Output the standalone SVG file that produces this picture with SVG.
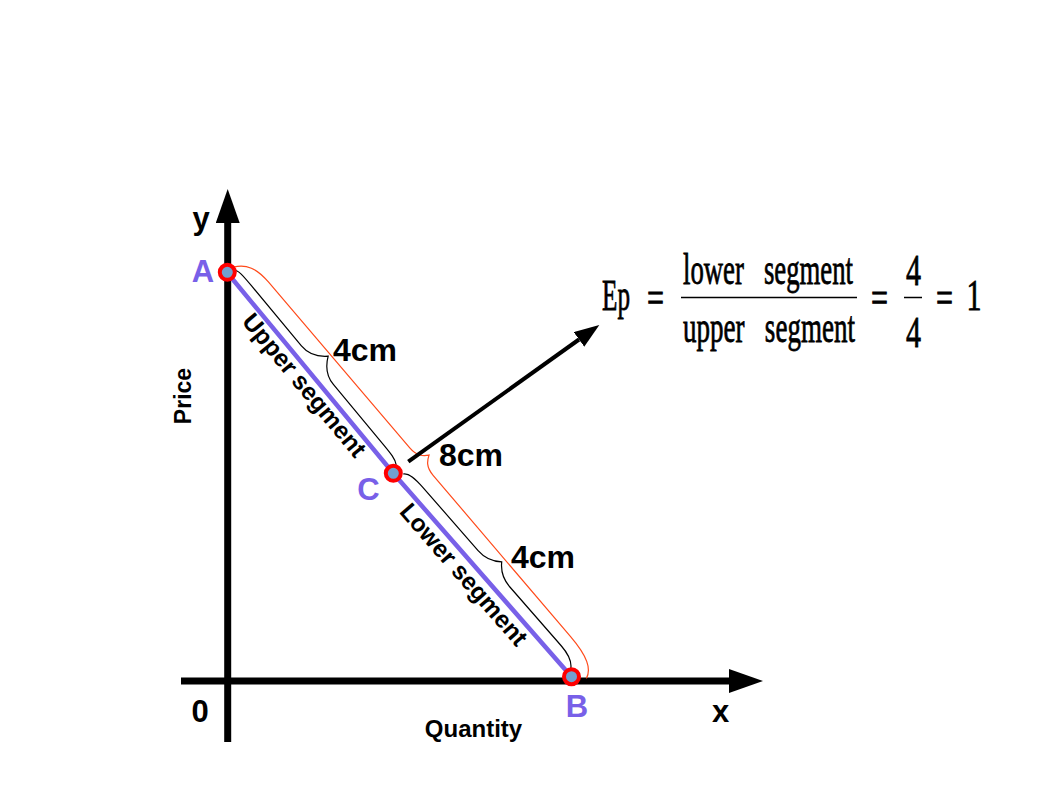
<svg xmlns="http://www.w3.org/2000/svg" width="1058" height="794" viewBox="0 0 1058 794">
<style>
.lbl{font-family:"Liberation Sans",Arial,sans-serif;font-weight:bold;fill:#000}
.pt{font-family:"Liberation Sans",Arial,sans-serif;font-weight:bold;font-size:31px;fill:#7860e8;text-anchor:middle}
.cm{font-family:"Liberation Sans",Arial,sans-serif;font-weight:bold;font-size:32px;fill:#000}
.seg{font-family:"Liberation Sans",Arial,sans-serif;font-weight:bold;font-size:24.5px;fill:#000;text-anchor:middle}
.f{font-family:"Liberation Serif","Times New Roman",serif;font-size:44px;fill:#000;stroke:#000;stroke-width:0.8}
.axis{stroke:#000;stroke-width:7;fill:none}
.brace{fill:none;stroke:#000;stroke-width:1.2}
.brace.red{stroke:#ff4a1a}
.dot{fill:#729fcf;stroke:#ff0000;stroke-width:4}
</style>
<defs>
<marker id="axhead" markerUnits="userSpaceOnUse" markerWidth="34" markerHeight="24" refX="0" refY="12" orient="auto">
<path d="M0,0 L34,12 L0,24 z" fill="#000"/>
</marker>
<marker id="arhead" markerUnits="userSpaceOnUse" markerWidth="25" markerHeight="18" refX="0" refY="9" orient="auto">
<path d="M0,0 L25,9 L0,18 z" fill="#000"/>
</marker>
</defs>
<rect width="1058" height="794" fill="#fff"/>

<g id="axes">
<line class="axis" x1="227.7" y1="742" x2="227.7" y2="223" marker-end="url(#axhead)"/>
<line class="axis" x1="181" y1="681" x2="729" y2="681" marker-end="url(#axhead)"/>
<text class="lbl" x="201" y="229" font-size="31" text-anchor="middle">y</text>
<text class="lbl" x="720.5" y="722" font-size="31" text-anchor="middle">x</text>
<text class="lbl" x="200" y="722" font-size="31" text-anchor="middle">0</text>
<text class="lbl" x="473.5" y="737" font-size="24" text-anchor="middle">Quantity</text>
<text class="lbl" font-size="23" text-anchor="middle" transform="translate(191,396) rotate(-90)">Price</text>
</g>

<g id="demand-line">
<polyline points="227.3,272.8 393.3,473.3 571.5,676.7" fill="none" stroke="#7860e8" stroke-width="4.5"/>
</g>

<g id="braces">
<path class="brace" transform="translate(227.3,272.3) rotate(50.3)" d="M2,-6 C5,-10 12,-10 26,-10 L104,-10 C116,-10 124,-17 129,-24 C134,-17 142,-10 154,-10 L232,-10 C244,-10 251,-10 256,-7"/>
<path class="brace" transform="translate(393.3,473.3) rotate(48.86)" d="M7,-7 C10,-12 18,-13 30,-13 L114,-13 C126,-13 133,-18 138,-23.4 C143,-18 150,-13 162,-13 L240,-13 C254,-13 260,-10 264,-5"/>
<path class="brace red" transform="translate(227.3,272.3) rotate(49.57)" d="M0,-8 C6,-20 16,-25 34,-25 L252,-25 C263,-25 267,-30 270,-35 C273,-30 277,-25 288,-25 L500,-25 C526,-25 538,-20 542,-10"/>
</g>

<g id="point-A">
<circle class="dot" cx="227.3" cy="272.3" r="7.5"/>
<text class="pt" x="203" y="282">A</text>
</g>
<g id="point-C">
<circle class="dot" cx="393.3" cy="473.3" r="7.5"/>
<text class="pt" x="368.5" y="500">C</text>
</g>
<g id="point-B">
<circle class="dot" cx="571.5" cy="676.7" r="7.5"/>
<text class="pt" x="577" y="717">B</text>
</g>

<g id="segment-labels">
<text class="seg" transform="translate(298,390.5) rotate(50.3)">Upper segment</text>
<text class="seg" transform="translate(457.5,580) rotate(48.86)">Lower segment</text>
<text class="cm" x="333" y="361">4cm</text>
<text class="cm" x="439" y="466">8cm</text>
<text class="cm" x="511" y="568">4cm</text>
</g>

<g id="connectors">
<line x1="408.3" y1="461.7" x2="579" y2="339.5" stroke="#000" stroke-width="4" marker-end="url(#arhead)"/>
</g>

<g id="formula">
<text class="f" x="602" y="310" textLength="28" lengthAdjust="spacingAndGlyphs">Ep</text>
<text class="f" x="647" y="312" textLength="17" lengthAdjust="spacingAndGlyphs">=</text>
<text class="f" x="683" y="284" textLength="170" lengthAdjust="spacingAndGlyphs" xml:space="preserve" style="white-space:pre">lower   segment</text>
<line x1="681" y1="297.5" x2="857" y2="297.5" stroke="#000" stroke-width="1.5"/>
<text class="f" x="683" y="342" textLength="172" lengthAdjust="spacingAndGlyphs" xml:space="preserve" style="white-space:pre">upper   segment</text>
<text class="f" x="871" y="312" textLength="17" lengthAdjust="spacingAndGlyphs">=</text>
<text class="f" x="906" y="285" textLength="15" lengthAdjust="spacingAndGlyphs">4</text>
<line x1="904" y1="297.5" x2="922" y2="297.5" stroke="#000" stroke-width="1.5"/>
<text class="f" x="906" y="347" textLength="15" lengthAdjust="spacingAndGlyphs">4</text>
<text class="f" x="936" y="312" textLength="17" lengthAdjust="spacingAndGlyphs">=</text>
<text class="f" x="966.5" y="310" textLength="15" lengthAdjust="spacingAndGlyphs">1</text>
</g>
</svg>
